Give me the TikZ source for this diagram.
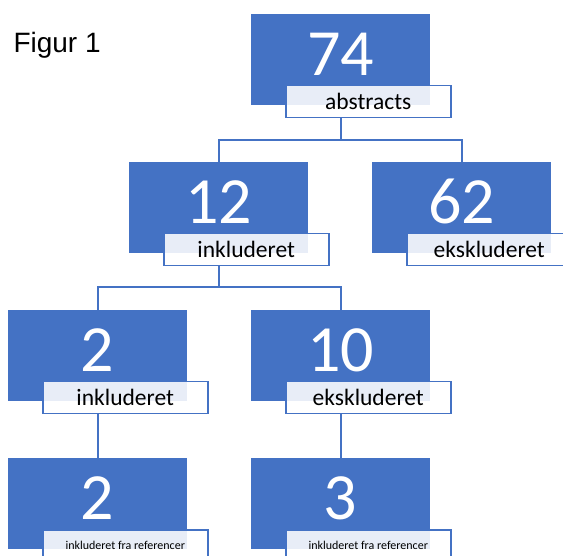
\documentclass[tikz,border=0pt]{standalone}
\usepackage{fontspec}
\setmainfont{Carlito}
\newfontfamily\figfont{Liberation Sans}
\usepackage{tikz}
\definecolor{boxblue}{HTML}{4472C4}

\tikzset{
    numbox/.style={fill=boxblue, text=white, anchor=north west, inner sep=0pt,
        minimum width=179pt, text height=61pt, text depth=30pt,
        font=\fontsize{66}{66}\selectfont},
    tagbox/.style={draw=boxblue, line width=1.5pt, fill=white, fill opacity=0.88,
        text opacity=1, anchor=north west, inner sep=0pt,
        minimum width=165pt, minimum height=32pt, font=\fontsize{23.5}{24}\selectfont},
    smalltag/.style={tagbox, font=\fontsize{12}{13}\selectfont},
    link/.style={draw=boxblue, line width=2pt}
}

\begin{document}
\begin{tikzpicture}[x=1pt, y=-1pt]
            \useasboundingbox (0,0) rectangle (563,556);
            \node [anchor = base west, font=\figfont\fontsize{28}{28}\selectfont] (title) at (10,53) {Figur 1};
            % boxes
            \node [numbox] (b74) at (251,14) {74};
            \node [numbox] (b12) at (129,162) {12};
            \node [numbox] (b62) at (372,162) {62};
            \node [numbox] (b2) at (8,310) {2};
            \node [numbox] (b10) at (251,310) {10};
            \node [numbox] (b2r) at (8,458) {2};
            \node [numbox] (b3) at (251,458) {3};
            % labels
            \node [tagbox] (l74) at ([xshift=34pt, yshift=-71pt] b74.north west) {abstracts};
            \node [tagbox] (l12) at ([xshift=34pt, yshift=-71pt] b12.north west) {inkluderet};
            \node [tagbox] (l62) at ([xshift=34pt, yshift=-71pt] b62.north west) {ekskluderet};
            \node [tagbox] (l2) at ([xshift=34pt, yshift=-71pt] b2.north west) {inkluderet};
            \node [tagbox] (l10) at ([xshift=34pt, yshift=-71pt] b10.north west) {ekskluderet};
            \node [smalltag] (l2r) at ([xshift=34pt, yshift=-71pt] b2r.north west) {inkluderet fra referencer};
            \node [smalltag] (l3) at ([xshift=34pt, yshift=-71pt] b3.north west) {inkluderet fra referencer};
            % connectors
            \draw [link] (l74.south -| b74.south) -- ++(0,-22pt) coordinate (f74);
            \draw [link] (b12.north) |- (f74) -| (b62.north);
            \draw [link] (l12.south -| b12.south) -- ++(0,-21pt) coordinate (f12);
            \draw [link] (b2.north) |- (f12) -| (b10.north);
            \draw [link] (l2.south -| b2.south) -- (b2r.north);
            \draw [link] (l10.south -| b10.south) -- (b3.north);
        \end{tikzpicture}
\end{document}
